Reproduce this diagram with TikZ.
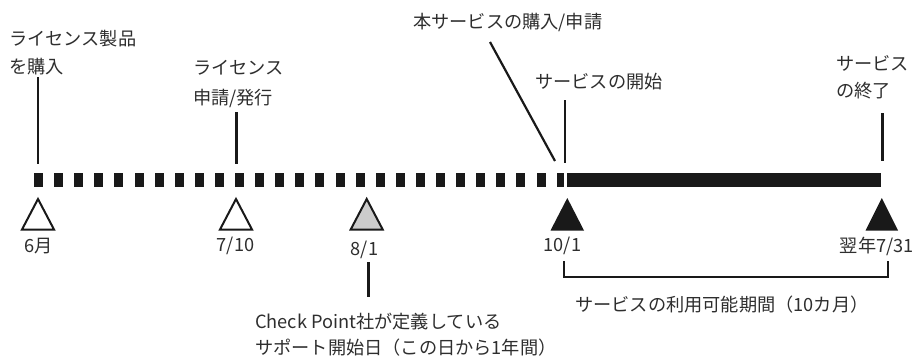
\documentclass[tikz,border=0pt]{standalone}
\usepackage{fontspec}
\newfontfamily\jp{Noto Sans CJK JP}
\begin{document}
\begin{tikzpicture}[x=1pt,y=-1pt,
  lbl/.style={font=\jp\fontsize{18.2}{22}\selectfont, text=black!82, inner sep=0pt},
  lleft/.style={lbl, anchor=west},
  ticker/.style={line width=2.5pt, black!90},
  tri/.style={line width=2pt, line join=miter, draw=black!90},
  bar/.style={fill=black!90},
  brack/.style={line width=2pt, black!90}]
\useasboundingbox (0,0) rectangle (918,356);

% named points on the time bar
\coordinate (m6)   at (38,180);
\coordinate (m710) at (236.7,180);
\coordinate (m81)  at (366.7,180);
\coordinate (m101) at (565,180);
\coordinate (m731) at (882.5,180);

% dashed part of the bar
\foreach \k in {0,...,25}{
  \fill[black!90] ({34+20.1*\k},173) rectangle ++(9,14);
}
\fill[black!90] (557,173) rectangle (564,187);
% solid part of the bar
\fill[bar] (567,173) rectangle (881,187);

% top labels
\node[lleft] (a1) at (9,39) {ライセンス製品};
\node[lleft] (a2) at (9,67) {を購入};
\node[lleft] (b1) at (193,68) {ライセンス};
\node[lleft] (b2) at (193,98) {申請/発行};
\node[lleft] (c1) at (413,22) {本サービスの購入/申請};
\node[lleft] (d1) at (535,82) {サービスの開始};
\node[lleft] (e1) at (836,63) {サービス};
\node[lleft] (e2) at (836,91) {の終了};

% ticks from labels to the bar
\coordinate (a2t) at (38,77);
\coordinate (b2t) at (236.7,112);
\coordinate (c1t) at (490,42);
\coordinate (c1b) at (555,161);
\coordinate (d1t) at (565,100);
\coordinate (e2t) at (882.7,113);
\draw[ticker] (a2t) -- (a2t |- 0,164);
\draw[ticker] (b2t) -- (b2t |- 0,164);
\draw[line width=2.2pt, black!90] (c1t) -- (c1b);
\draw[ticker] (d1t) -- (d1t |- 0,163);
\draw[ticker] (e2t) -- (e2t |- 0,161);

% triangles
\draw[tri, fill=white]    (38,199) -- (22,229.5) -- (54,229.5) -- cycle;
\draw[tri, fill=white]    (236,199) -- (220,229.5) -- (252,229.5) -- cycle;
\draw[tri, fill=black!20] (366.7,199) -- (350.7,229.5) -- (382.7,229.5) -- cycle;
\fill[black!90] (567.3,198) -- (550.5,230.5) -- (584,230.5) -- cycle;
\fill[black!90] (881.8,198) -- (865.5,230.5) -- (898,230.5) -- cycle;

% date labels
\node[lbl] (t6)   at (38.5,246) {6月};
\node[lbl] (t710) at (235.5,246) {7/10};
\node[lbl] (t81)  at (364.5,250) {8/1};
\node[lbl] (t101) at (562.5,246) {10/1};
\node[lbl, anchor=east] (t731) at (914,246) {翌年7/31};

% support start annotation
\node[lleft] (f1) at (255,322) {Check Point社が定義している};
\node[lleft] (f2) at (255,348) {サポート開始日（この日から1年間）};
\coordinate (f1t) at (368.3,262);
\draw[ticker] (f1t) -- (f1t |- 0,297);

% service period bracket
\coordinate (bl) at (564.3,261);
\coordinate (br) at (888.3,261);
\draw[brack, line join=miter] (bl) -- (bl |- 0,277) -- (br |- 0,277) -- (br);
\node[lleft] (g1) at (575,305) {サービスの利用可能期間（10カ月）};
\end{tikzpicture}
\end{document}
